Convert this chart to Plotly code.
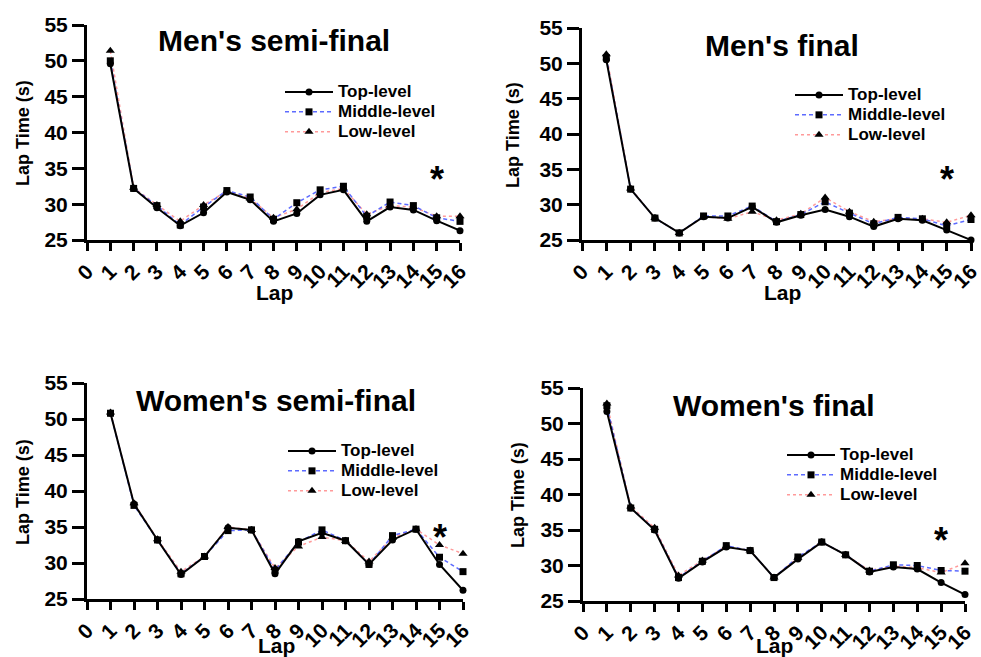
import plotly.graph_objects as go

# Lap numbers and axis ticks
laps = list(range(1, 17))
x_ticks = list(range(0, 17))
y_ticks = [25, 30, 35, 40, 45, 50, 55]

panel_titles = ["Men's semi-final", "Men's final", "Women's semi-final", "Women's final"]
level_names = ["Top-level", "Middle-level", "Low-level"]

# Mean lap times (s) per level
men_semi_top = [49.6, 32.2, 29.5, 27.0, 28.8, 31.7, 30.6, 27.6, 28.7, 31.3, 32.0, 27.6, 29.6, 29.2, 27.7, 26.3]
men_semi_mid = [50.0, 32.2, 29.8, 27.1, 29.6, 31.9, 31.0, 27.9, 30.2, 32.0, 32.5, 28.3, 30.3, 29.8, 28.1, 27.6]
men_semi_low = [51.4, 32.3, 29.9, 27.6, 29.9, 31.8, 30.8, 28.1, 29.3, 31.6, 32.2, 28.6, 29.8, 29.6, 28.3, 28.3]

men_final_top = [50.5, 32.2, 28.1, 26.0, 28.3, 28.1, 29.7, 27.5, 28.5, 29.3, 28.3, 26.9, 28.0, 27.8, 26.4, 25.0]
men_final_mid = [50.8, 32.2, 28.1, 26.0, 28.4, 28.4, 29.8, 27.6, 28.6, 30.4, 28.8, 27.3, 28.2, 28.0, 27.0, 27.9]
men_final_low = [51.3, 32.3, 28.1, 26.0, 28.3, 28.0, 29.0, 27.8, 28.7, 31.0, 29.0, 27.6, 28.0, 28.0, 27.5, 28.5]

women_semi_top = [50.8, 38.2, 33.2, 28.4, 30.9, 34.9, 34.6, 28.5, 33.0, 34.2, 33.1, 29.8, 33.2, 34.7, 29.8, 26.2]
women_semi_mid = [50.8, 38.0, 33.2, 28.5, 30.9, 34.5, 34.6, 29.0, 32.9, 34.6, 33.1, 29.8, 33.8, 34.7, 30.8, 28.8]
women_semi_low = [50.9, 38.3, 33.3, 28.8, 30.9, 35.0, 34.6, 29.3, 32.3, 33.6, 33.1, 30.2, 33.5, 34.7, 32.5, 31.3]

women_final_top = [51.7, 38.1, 35.0, 28.2, 30.5, 32.6, 32.1, 28.3, 30.9, 33.3, 31.5, 29.1, 29.8, 29.5, 27.6, 25.9]
women_final_mid = [52.5, 38.1, 35.1, 28.3, 30.6, 32.8, 32.1, 28.3, 31.2, 33.3, 31.5, 29.2, 30.1, 30.0, 29.3, 29.2]
women_final_low = [52.8, 38.3, 35.3, 28.6, 30.7, 32.7, 32.1, 28.3, 31.1, 33.3, 31.5, 29.3, 29.9, 29.7, 29.0, 30.3]

panels = [
    (men_semi_top, men_semi_mid, men_semi_low),
    (men_final_top, men_final_mid, men_final_low),
    (women_semi_top, women_semi_mid, women_semi_low),
    (women_final_top, women_final_mid, women_final_low),
]

W, H = 981, 657
FONT = "Liberation Sans, Arial, sans-serif"

# Plot-area boxes in pixels: (left, right, top, bottom)
boxes = [
    (87, 460, 25, 240),
    (582, 971, 28, 240),
    (87, 463, 383, 599),
    (583, 965, 388, 601),
]
# Legend anchor (left, top) in pixels
legend_pos = [(280, 77), (790, 80), (283, 436), (782, 440)]
# y-axis title centres (x, y), x-axis title centres and panel title centres in pixels
ytitle_pos = [(23, 133), (513, 135), (23, 492), (518, 495)]
xtitle_pos = [(274, 292), (782, 292), (276, 645), (774, 645)]
title_pos = [(274, 40), (782, 45), (276, 400), (774, 405)]

styles = [
    dict(line=dict(color="black", width=2, dash="solid"),
         marker=dict(symbol="circle", size=7, color="black")),
    dict(line=dict(color="#5d6bff", width=1.5, dash="4px,3px"),
         marker=dict(symbol="square", size=7, color="black")),
    dict(line=dict(color="#ff9a9a", width=1.5, dash="dot"),
         marker=dict(symbol="triangle-up", size=8, color="black")),
]

fig = go.Figure()
layout = dict(
    width=W, height=H,
    margin=dict(l=0, r=0, t=0, b=0, autoexpand=False),
    paper_bgcolor="white", plot_bgcolor="white",
    font=dict(family=FONT, color="black", weight="bold"),
    annotations=[],
)

for i, (series, box) in enumerate(zip(panels, boxes)):
    n = "" if i == 0 else str(i + 1)
    xa, ya = "x" + n, "y" + n
    leg = "legend" + n
    # draw low first so the top-level line sits on top; legend order via rank
    for k in (2, 1, 0):
        fig.add_trace(go.Scatter(
            x=laps, y=series[k], mode="lines+markers",
            name='<span style="font-size:17px">%s</span>' % level_names[k],
            xaxis=xa, yaxis=ya, legend=leg, legendrank=k + 1,
            cliponaxis=False, **styles[k],
        ))
    l, r, t, b = box
    axis_common = dict(
        showline=True, linewidth=3, linecolor="black",
        ticks="outside", tickwidth=3, tickcolor="black",
        showgrid=False, zeroline=False, automargin=False,
        ticklabeloverflow="allow",
        tickfont=dict(family=FONT, size=21, color="black", weight="bold"),
    )
    layout["xaxis" + n] = dict(
        domain=[l / W, r / W], range=[0, 16], anchor=ya, ticklen=8,
        tickmode="array", tickvals=x_ticks, tickangle=-45, **axis_common,
    )
    layout["yaxis" + n] = dict(
        domain=[1 - b / H, 1 - t / H], range=[25, 55], anchor=xa, ticklen=12,
        tickmode="array", tickvals=y_ticks, **axis_common,
    )
    lx, ly = legend_pos[i]
    layout[leg] = dict(
        x=lx / W, y=1 - ly / H, xanchor="left", yanchor="top",
        bgcolor="rgba(0,0,0,0)", traceorder="normal",
        font=dict(family=FONT, size=13, color="black", weight="bold"),
        itemwidth=48, tracegroupgap=0,
    )
    tx, ty = title_pos[i]
    layout["annotations"].append(dict(
        text=panel_titles[i], x=tx / W, y=1 - ty / H, xref="paper", yref="paper",
        showarrow=False, xanchor="center", yanchor="middle",
        font=dict(family=FONT, size=30, color="black", weight="bold"),
    ))
    yx, yy = ytitle_pos[i]
    layout["annotations"].append(dict(
        text="Lap Time (s)", x=yx / W, y=1 - yy / H, xref="paper", yref="paper",
        showarrow=False, textangle=-90, xanchor="center", yanchor="middle",
        font=dict(family=FONT, size=18, color="black", weight="bold"),
    ))
    xx, xy = xtitle_pos[i]
    layout["annotations"].append(dict(
        text="Lap", x=xx / W, y=1 - xy / H, xref="paper", yref="paper",
        showarrow=False, xanchor="center", yanchor="middle",
        font=dict(family=FONT, size=21, color="black", weight="bold"),
    ))
    # significance marker at lap 15
    layout["annotations"].append(dict(
        text="*", x=15, y=33.5, xref=xa, yref=ya,
        showarrow=False, xanchor="center", yanchor="middle",
        font=dict(family=FONT, size=36, color="black", weight="bold"),
    ))

fig.update_layout(**layout)
fig.write_html("out.html")
